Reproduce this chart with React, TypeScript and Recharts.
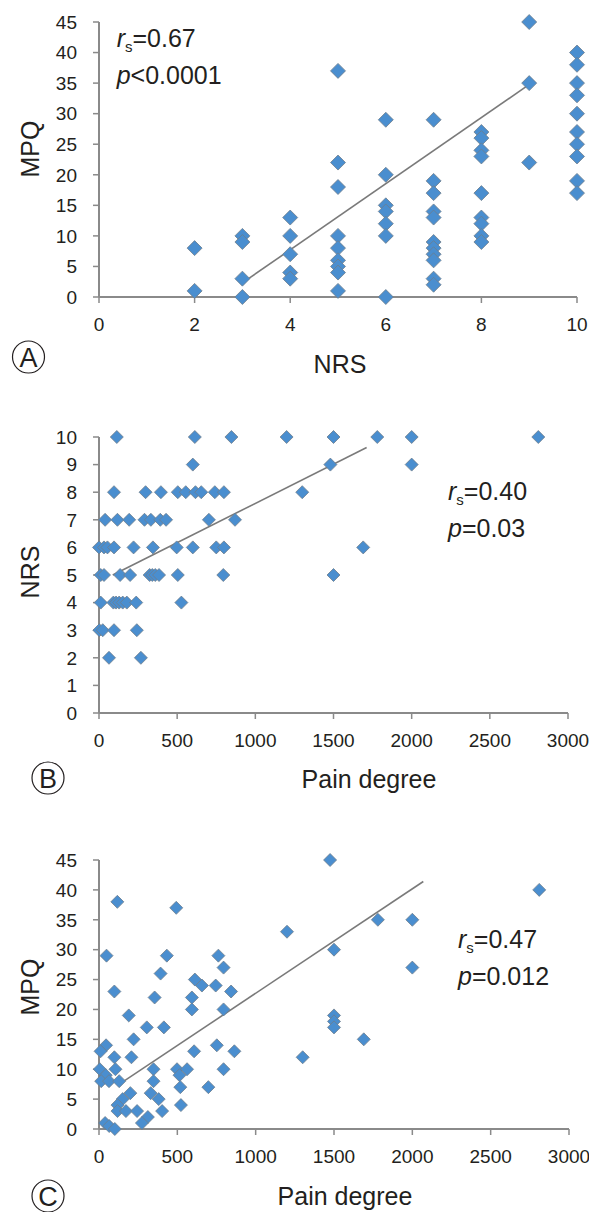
import React from 'react';
import { ScatterChart, Scatter, XAxis, YAxis, ReferenceLine } from 'recharts';

const FONT = '"Liberation Sans", Arial, Helvetica, sans-serif';
const AXIS = '#8a8a8a';
const TEXT = '#231f20';
const FILL = '#4a8ecf';
const EDGE = '#6f7d8c';

// ---------- Panel A: MPQ vs NRS ----------
const nrsLevelsA = [2, 3, 4, 5, 6, 7, 8, 9, 10];
const mpqByNrsA = [
  [8, 1],
  [10, 9, 3, 0],
  [13, 10, 7, 4, 3],
  [37, 22, 18, 10, 8, 6, 5, 4, 1],
  [29, 20, 15, 14, 12, 10, 0],
  [29, 19, 17, 14, 13, 9, 8, 7, 6, 3, 2],
  [27, 26, 24, 23, 17, 13, 12, 10, 9],
  [45, 35, 22],
  [40, 38, 35, 33, 30, 27, 25, 23, 19, 17],
];
const trendA = [{ x: 3.09, y: 2.8 }, { x: 8.95, y: 34.5 }];
const nrsTicksA = [0, 2, 4, 6, 8, 10];
const mpqTicks = [0, 5, 10, 15, 20, 25, 30, 35, 40, 45];

// ---------- Panel B: NRS vs Pain degree ----------
const nrsLevelsB = [10, 9, 8, 7, 6, 5, 4, 3, 2];
const painByNrsB = [
  [114, 613, 847, 1200, 1500, 1780, 2000, 2810],
  [600, 1480, 2000],
  [96, 298, 396, 504, 555, 617, 654, 741, 799, 1300],
  [39, 118, 193, 291, 332, 392, 429, 703, 870],
  [0, 32, 54, 96, 221, 345, 497, 600, 750, 799, 1690],
  [11, 32, 135, 199, 324, 341, 360, 384, 504, 795, 1500],
  [11, 92, 109, 129, 152, 178, 238, 527],
  [2, 24, 96, 242],
  [64, 268],
];
const trendB = [{ x: 88, y: 5.0 }, { x: 1712, y: 9.62 }];
const painTicks = [0, 500, 1000, 1500, 2000, 2500, 3000];
const nrsTicksB = [0, 1, 2, 3, 4, 5, 6, 7, 8, 9, 10];

// ---------- Panel C: MPQ vs Pain degree ----------
const painC = [
  1475, 2810, 117, 493, 1780, 2000, 1200, 48, 433, 762, 1500, 2000, 795, 393, 612, 657, 745, 98, 843, 355,
  593, 593, 795, 190, 1500, 1500, 1500, 305, 414, 221, 1690, 45, 752, 10, 607, 864, 98, 207, 1300, 5,
  105, 348, 498, 562, 795, 43, 514, 14, 64, 129, 348, 519, 698, 200, 330, 151, 381, 118, 523, 118,
  172, 243, 403, 312, 274, 39, 65, 101,
];
const mpqC = [
  45, 40, 38, 37, 35, 35, 33, 29, 29, 29, 30, 27, 27, 26, 25, 24, 24, 23, 23, 22,
  22, 20, 20, 19, 19, 18, 17, 17, 17, 15, 15, 14, 14, 13, 13, 13, 12, 12, 12, 10,
  10, 10, 10, 10, 10, 9, 9, 8, 8, 8, 8, 7, 7, 6, 6, 5, 5, 4, 4, 3,
  3, 3, 3, 2, 1, 1, 0.5, 0,
];
const trendC = [{ x: 130, y: 7.5 }, { x: 2070, y: 41.4 }];

const dataA = nrsLevelsA.flatMap((n, i) => mpqByNrsA[i].map((m) => ({ x: n, y: m })));
const dataB = nrsLevelsB.flatMap((n, i) => painByNrsB[i].map((p) => ({ x: p, y: n })));
const dataC = painC.map((p, i) => ({ x: p, y: mpqC[i] }));

const diamond = (r: number) => (props: any) => {
  const { cx, cy } = props;
  if (cx == null || cy == null) return <g />;
  return (
    <path
      d={`M${cx},${cy - r}L${cx + r},${cy}L${cx},${cy + r}L${cx - r},${cy}Z`}
      fill={FILL}
      stroke={EDGE}
      strokeWidth={0.8}
    />
  );
};

const tickStyle = { fontSize: 19, fill: TEXT, fontFamily: FONT };
const axisLine = { stroke: AXIS, strokeWidth: 2 };
const tickLine = { stroke: AXIS, strokeWidth: 1.5 };

function Panel(props: {
  top: number;
  height: number;
  mTop: number;
  mRight: number;
  xH: number;
  data: { x: number; y: number }[];
  xDomain: [number, number];
  yDomain: [number, number];
  xTicks: number[];
  yTicks: number[];
  trend: { x: number; y: number }[];
  r: number;
}) {
  return (
    <div style={{ position: 'absolute', left: 0, top: props.top }}>
      <ScatterChart
        width={589}
        height={props.height}
        margin={{ top: props.mTop, right: props.mRight, bottom: 0, left: 0 }}
        style={{ overflow: 'visible' }}
      >
        <XAxis
          type="number"
          dataKey="x"
          domain={props.xDomain}
          ticks={props.xTicks}
          height={props.xH}
          tick={tickStyle}
          tickSize={6}
          tickMargin={15}
          axisLine={axisLine}
          tickLine={tickLine}
          interval={0}
        />
        <YAxis
          type="number"
          dataKey="y"
          domain={props.yDomain}
          ticks={props.yTicks}
          width={99}
          tick={tickStyle}
          tickSize={6}
          tickMargin={16}
          axisLine={axisLine}
          tickLine={tickLine}
          interval={0}
        />
        <ReferenceLine
          segment={props.trend}
          stroke="#7a7a7a"
          strokeWidth={1.6}
          ifOverflow="visible"
        />
        <Scatter data={props.data} shape={diamond(props.r)} isAnimationActive={false} />
      </ScatterChart>
    </div>
  );
}

function Rs(p: { x: number; y: number; v: string }) {
  return (
    <text x={p.x} y={p.y} fontSize={25} fontFamily={FONT} fill={TEXT}>
      <tspan fontStyle="italic">r</tspan>
      <tspan fontSize={15} dy={5}>s</tspan>
      <tspan dy={-5}>{p.v}</tspan>
    </text>
  );
}

function Pv(p: { x: number; y: number; v: string }) {
  return (
    <text x={p.x} y={p.y} fontSize={25} fontFamily={FONT} fill={TEXT}>
      <tspan fontStyle="italic">p</tspan>
      <tspan>{p.v}</tspan>
    </text>
  );
}

function Circled(p: { x: number; y: number; t: string }) {
  return (
    <g>
      <circle cx={p.x} cy={p.y} r={16} fill="none" stroke={TEXT} strokeWidth={1.2} />
      <text
        x={p.x}
        y={p.y + 9.5}
        textAnchor="middle"
        fontSize={27}
        fontFamily={FONT}
        fill={TEXT}
      >
        {p.t}
      </text>
    </g>
  );
}

function Title(p: { x: number; y: number; t: string; rotate?: boolean }) {
  return (
    <text
      x={p.x}
      y={p.y}
      textAnchor="middle"
      dominantBaseline="central"
      fontSize={25}
      fontFamily={FONT}
      fill={TEXT}
      transform={p.rotate ? `rotate(-90 ${p.x} ${p.y})` : undefined}
    >
      {p.t}
    </text>
  );
}

export default function App() {
  return (
    <div
      style={{
        position: 'absolute',
        left: 0,
        top: 0,
        width: 589,
        height: 1212,
        background: '#fff',
        overflow: 'hidden',
        fontFamily: FONT,
      }}
    >
      <Panel
        top={0}
        height={340}
        mTop={22}
        mRight={12}
        xH={43}
        data={dataA}
        xDomain={[0, 10]}
        yDomain={[0, 45]}
        xTicks={nrsTicksA}
        yTicks={mpqTicks}
        trend={trendA}
        r={7.5}
      />
      <Panel
        top={380}
        height={420}
        mTop={57}
        mRight={21}
        xH={87}
        data={dataB}
        xDomain={[0, 3000]}
        yDomain={[0, 10]}
        xTicks={painTicks}
        yTicks={nrsTicksB}
        trend={trendB}
        r={6.5}
      />
      <Panel
        top={820}
        height={392}
        mTop={40}
        mRight={20}
        xH={83}
        data={dataC}
        xDomain={[0, 3000]}
        yDomain={[0, 45]}
        xTicks={painTicks}
        yTicks={mpqTicks}
        trend={trendC}
        r={6.5}
      />
      <svg
        width={589}
        height={1212}
        style={{ position: 'absolute', left: 0, top: 0, pointerEvents: 'none' }}
      >
        <Rs x={116.7} y={46.7} v="=0.67" />
        <Pv x={116.7} y={84} v="<0.0001" />
        <Rs x={448} y={500} v="=0.40" />
        <Pv x={448} y={537} v="=0.03" />
        <Rs x={458} y={948} v="=0.47" />
        <Pv x={458} y={985} v="=0.012" />

        <Title x={30} y={149} t="MPQ" rotate />
        <Title x={340} y={364} t="NRS" />
        <Title x={30} y={572} t="NRS" rotate />
        <Title x={369} y={779} t="Pain degree" />
        <Title x={30} y={987} t="MPQ" rotate />
        <Title x={345} y={1196} t="Pain degree" />

        <Circled x={28.5} y={357} t="A" />
        <Circled x={48} y={778} t="B" />
        <Circled x={48} y={1196} t="C" />
      </svg>
    </div>
  );
}
